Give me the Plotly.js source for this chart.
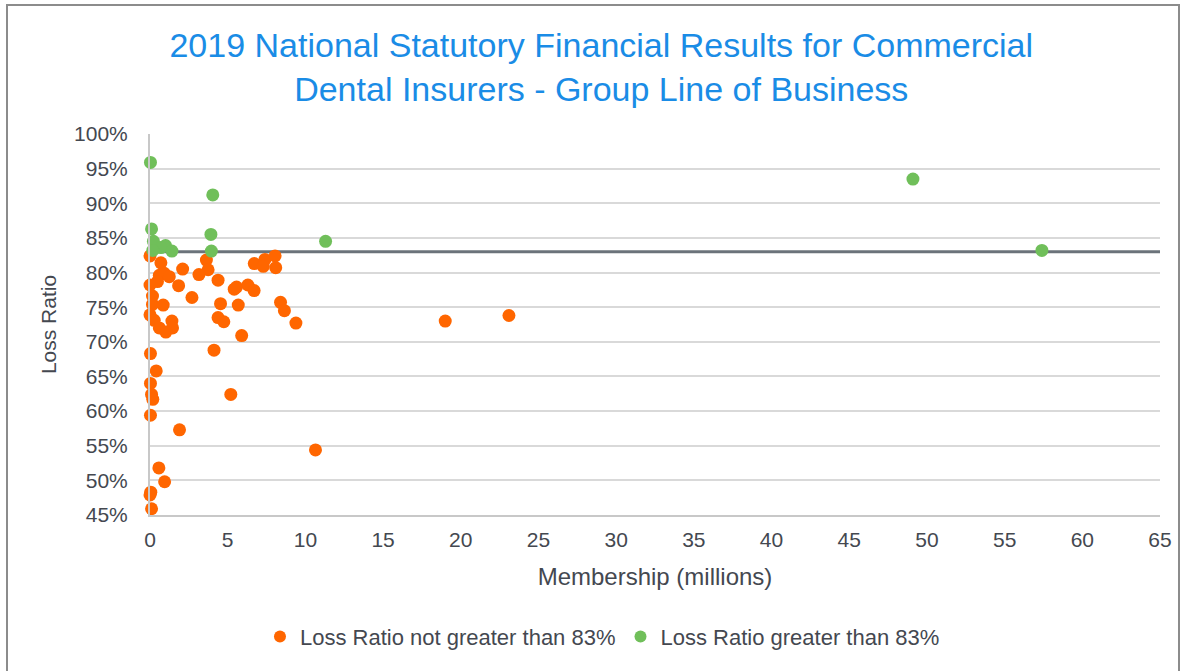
<!DOCTYPE html>
<html>
<head>
<meta charset="utf-8">
<script src="https://cdn.plot.ly/plotly-3.0.1.min.js"></script>
<style>
  html, body { margin: 0; padding: 0; background: #ffffff; }
  #wrap { position: relative; width: 1193px; height: 671px; overflow: hidden; }
  #chart { position: absolute; left: 0; top: 0; width: 1193px; height: 671px; }
  #frame { position: absolute; left: 6px; top: 4px; width: 1174px; height: 700px;
           border: 2px solid #8c8c8c; pointer-events: none; box-sizing: border-box; }
</style>
</head>
<body>
<div id="wrap">
  <div id="chart"></div>
  <div id="frame"></div>
</div>
<script>
// Membership (millions) and loss ratio (%)
const lowMembership = [
  0.0, 0.7, 0.6, 0.92, 1.24, 0.48, 0.0, 1.84, 2.1, 0.16,
  0.16, 0.85, 0.0, 0.27, 0.6, 1.41, 1.45, 1.02, 2.7,
  3.63, 3.74, 3.15, 4.38, 4.54, 4.38, 4.75, 4.12, 5.2,
  5.42, 5.57, 6.3, 6.7, 5.68, 5.9, 6.71, 7.4, 8.05, 7.29, 8.09, 8.4, 8.65, 9.39,
  10.65, 19.0, 23.1,
  0.03, 0.4, 0.03, 0.1, 0.18, 0.03, 1.9, 0.57, 0.94, 0.05, 0.0, 0.1
];
const lowLossRatio = [
  82.4, 81.4, 79.6, 79.9, 79.4, 78.7, 78.2, 78.1, 80.5, 76.6,
  75.4, 75.3, 73.9, 73.1, 72.0, 73.0, 72.0, 71.4, 76.4,
  81.8, 80.4, 79.7, 78.9, 75.5, 73.5, 72.9, 68.8, 62.4,
  77.6, 77.9, 78.2, 77.4, 75.3, 70.9, 81.3, 81.9, 82.4, 80.9, 80.7, 75.7, 74.5, 72.7,
  54.4, 73.0, 73.8,
  68.3, 65.8, 64.0, 62.4, 61.7, 59.4, 57.3, 51.8, 49.8, 48.3, 47.9, 45.9
];
const highMembership = [0.03, 4.04, 0.1, 3.92, 0.22, 1.0, 0.7, 1.41, 0.18, 3.95, 11.3, 49.1, 57.4];
const highLossRatio  = [95.9, 91.2, 86.3, 85.5, 84.5, 83.9, 83.6, 83.1, 83.2, 83.1, 84.5, 93.5, 83.2];
const thresholdRatio = 83;
const xRange = [0, 65];
const yRange = [45, 100];
const seriesNames = ['Loss Ratio not greater than 83%', 'Loss Ratio greater than 83%'];

const txt = '#444850';
const font = 'Liberation Sans, Arial, sans-serif';

const traces = [
  {
    type: 'scatter', mode: 'markers', name: seriesNames[0],
    x: lowMembership, y: lowLossRatio, cliponaxis: false,
    marker: { color: '#ff6600', size: 13, line: { width: 0 } },
    hoverinfo: 'x+y'
  },
  {
    type: 'scatter', mode: 'markers', name: seriesNames[1],
    x: highMembership, y: highLossRatio, cliponaxis: false,
    marker: { color: '#70bf5a', size: 13, line: { width: 0 } },
    hoverinfo: 'x+y'
  }
];

const layout = {
  width: 1193, height: 671,
  paper_bgcolor: '#ffffff', plot_bgcolor: '#ffffff',
  margin: { l: 150, r: 33, t: 134, b: 156 },
  font: { family: font, color: txt, size: 21 },
  title: {
    text: '2019 National Statutory Financial Results for Commercial<br>Dental Insurers - Group Line of Business',
    font: { family: font, size: 34, color: '#1a8ce6' },
    x: 0.504, xanchor: 'center', xref: 'container',
    y: 0.915, yanchor: 'top', yref: 'container'
  },
  xaxis: {
    range: xRange, dtick: 5, tick0: 0,
    showgrid: false, zeroline: false,
    showline: true, linecolor: '#c8c8c8', linewidth: 2,
    ticks: '', ticklabelstandoff: 5,
    tickfont: { family: font, size: 21, color: txt },
    title: { text: 'Membership (millions)', font: { family: font, size: 24, color: txt }, standoff: 18 }
  },
  yaxis: {
    range: yRange, dtick: 5, tick0: 45, ticksuffix: '%',
    showgrid: true, gridcolor: '#d9d9d9', gridwidth: 2,
    zeroline: false,
    showline: true, linecolor: '#c8c8c8', linewidth: 2,
    ticks: '', ticklabelstandoff: 16,
    tickfont: { family: font, size: 21, color: txt },
    title: { text: 'Loss Ratio', font: { family: font, size: 21, color: txt }, standoff: 12 }
  },
  shapes: [
    {
      type: 'line', xref: 'x', yref: 'y', layer: 'below',
      x0: xRange[0], x1: xRange[1], y0: thresholdRatio, y1: thresholdRatio,
      line: { color: '#6b737a', width: 3 }
    }
  ],
  legend: {
    orientation: 'h',
    x: 0.505, xanchor: 'center', xref: 'container',
    y: 0.051, yanchor: 'middle', yref: 'container',
    font: { family: font, size: 22, color: txt },
    itemsizing: 'constant',
    traceorder: 'normal'
  },
  showlegend: true
};

Plotly.newPlot('chart', traces, layout, { displayModeBar: false, staticPlot: true });
</script>
</body>
</html>
